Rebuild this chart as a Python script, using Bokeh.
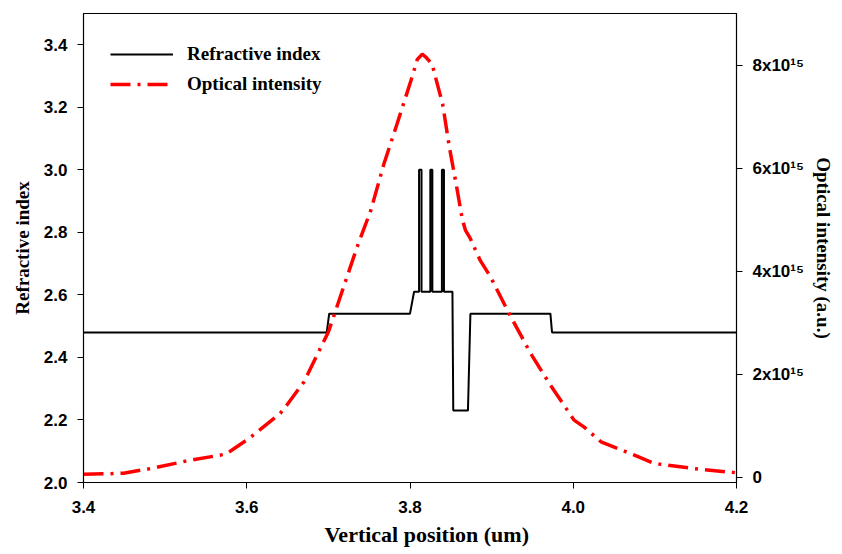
import math
from bokeh.plotting import figure
from bokeh.models import (Range1d, LinearAxis, FixedTicker, PrintfTickFormatter,
                          CustomJSTickFormatter, Legend, LegendItem, Title)
from bokeh.embed import file_html
from bokeh.resources import INLINE

# Refractive index profile (vertical position in um, index)
index_x = [3.400, 3.698, 3.701, 3.800, 3.805, 3.8111, 3.8111, 3.8141, 3.8141,
           3.8249, 3.8249, 3.8274, 3.8274, 3.8391, 3.8391, 3.8416, 3.8416,
           3.852, 3.853, 3.871, 3.874, 3.972, 3.974, 4.200]
index_n = [2.48, 2.48, 2.54, 2.54, 2.61, 2.61, 3.00, 3.00, 2.61,
           2.61, 3.00, 3.00, 2.61, 2.61, 3.00, 3.00, 2.61,
           2.61, 2.23, 2.23, 2.54, 2.54, 2.48, 2.48]

# Optical intensity (a.u., in units of 1e15)
int_x = [3.400, 3.433, 3.449, 3.482, 3.527, 3.574, 3.582, 3.604, 3.641, 3.649,
         3.670, 3.690, 3.700, 3.735, 3.752, 3.768, 3.784, 3.801, 3.809, 3.815,
         3.819, 3.827, 3.840, 3.848, 3.858, 3.864, 3.868, 3.874, 3.886, 3.899,
         3.921, 3.948, 3.972, 4.001, 4.013, 4.034, 4.075, 4.099, 4.148, 4.199]
int_e15 = [0.06, 0.07, 0.08, 0.17, 0.32, 0.45, 0.53, 0.77, 1.24, 1.40,
           1.85, 2.50, 2.82, 4.46, 5.18, 6.08, 6.85, 7.69, 8.11, 8.21,
           8.16, 8.02, 7.24, 6.43, 5.56, 5.01, 4.79, 4.63, 4.21, 3.88,
           3.19, 2.40, 1.79, 1.11, 0.98, 0.69, 0.43, 0.27, 0.17, 0.09]

x_ticks = [3.4, 3.6, 3.8, 4.0, 4.2]
n_ticks = [2.0, 2.2, 2.4, 2.6, 2.8, 3.0, 3.2, 3.4]
i_ticks = [0, 2, 4, 6, 8]

x_title = "Vertical position (um)"
n_title = "Refractive index"
i_title = "Optical intensity (a.u.)"

SANS = "Liberation Sans"
SERIF = "Liberation Serif"

p = figure(width=842, height=554, x_range=Range1d(3.4, 4.2), y_range=Range1d(2.0, 3.5),
           output_backend="svg", toolbar_location=None,
           min_border_left=83, min_border_right=106, min_border_top=13, min_border_bottom=72,
           y_axis_label=n_title)
p.extra_y_ranges = {"int": Range1d(-0.1, 9.0)}
p.xgrid.visible = False
p.ygrid.visible = False
p.outline_line_color = "black"
p.outline_line_width = 1.2
p.background_fill_color = "white"
p.border_fill_color = "white"

r_n = p.line(index_x, index_n, line_color="black", line_width=2)
r_i = p.line(int_x, int_e15, y_range_name="int", line_color="red", line_width=3.5,
             line_dash="20 7 3 7")

right = LinearAxis(y_range_name="int", axis_label=i_title)
p.add_layout(right, "right")

for ax in [p.xaxis[0], p.yaxis[0], right]:
    ax.minor_tick_line_color = None
    ax.major_tick_out = 6
    ax.major_tick_in = 0
    ax.axis_line_color = "black"
    ax.major_tick_line_color = "black"
    ax.major_label_text_font = SANS
    ax.major_label_text_font_style = "bold"
    ax.major_label_text_font_size = "17px"
    ax.major_label_text_color = "black"
    ax.axis_label_text_font = SERIF
    ax.axis_label_text_font_style = "bold"
    ax.axis_label_text_font_size = "19px"
    ax.axis_label_text_color = "black"

p.xaxis[0].ticker = FixedTicker(ticks=x_ticks)
p.xaxis[0].formatter = PrintfTickFormatter(format="%.1f")
p.xaxis[0].major_label_standoff = 12

p.yaxis[0].ticker = FixedTicker(ticks=n_ticks)
p.yaxis[0].formatter = PrintfTickFormatter(format="%.1f")
p.yaxis[0].major_label_standoff = 10
p.yaxis[0].axis_label_standoff = 8

right.ticker = FixedTicker(ticks=i_ticks)
right.formatter = CustomJSTickFormatter(code="return tick == 0 ? '0' : tick + 'x10\u00b9\u2075';")
right.major_label_standoff = 10
right.axis_label_standoff = 6

# bottom title as a Title in the lower panel, shifted right as in the original
p.add_layout(Title(text=x_title, align="left", offset=241, standoff=9,
                   text_font=SERIF, text_font_style="bold", text_font_size="22px",
                   text_color="black"), "below")

legend = Legend(items=[LegendItem(label="Refractive index", renderers=[r_n]),
                       LegendItem(label="Optical intensity", renderers=[r_i])],
                location=(27, 387), margin=0, padding=0, spacing=8,
                glyph_width=63, glyph_height=20, label_height=20, label_standoff=14,
                label_text_font=SERIF, label_text_font_style="bold",
                label_text_font_size="19px", label_text_color="black",
                border_line_alpha=0, background_fill_alpha=0)
p.add_layout(legend)

open("out.html", "w").write(file_html(p, INLINE))
